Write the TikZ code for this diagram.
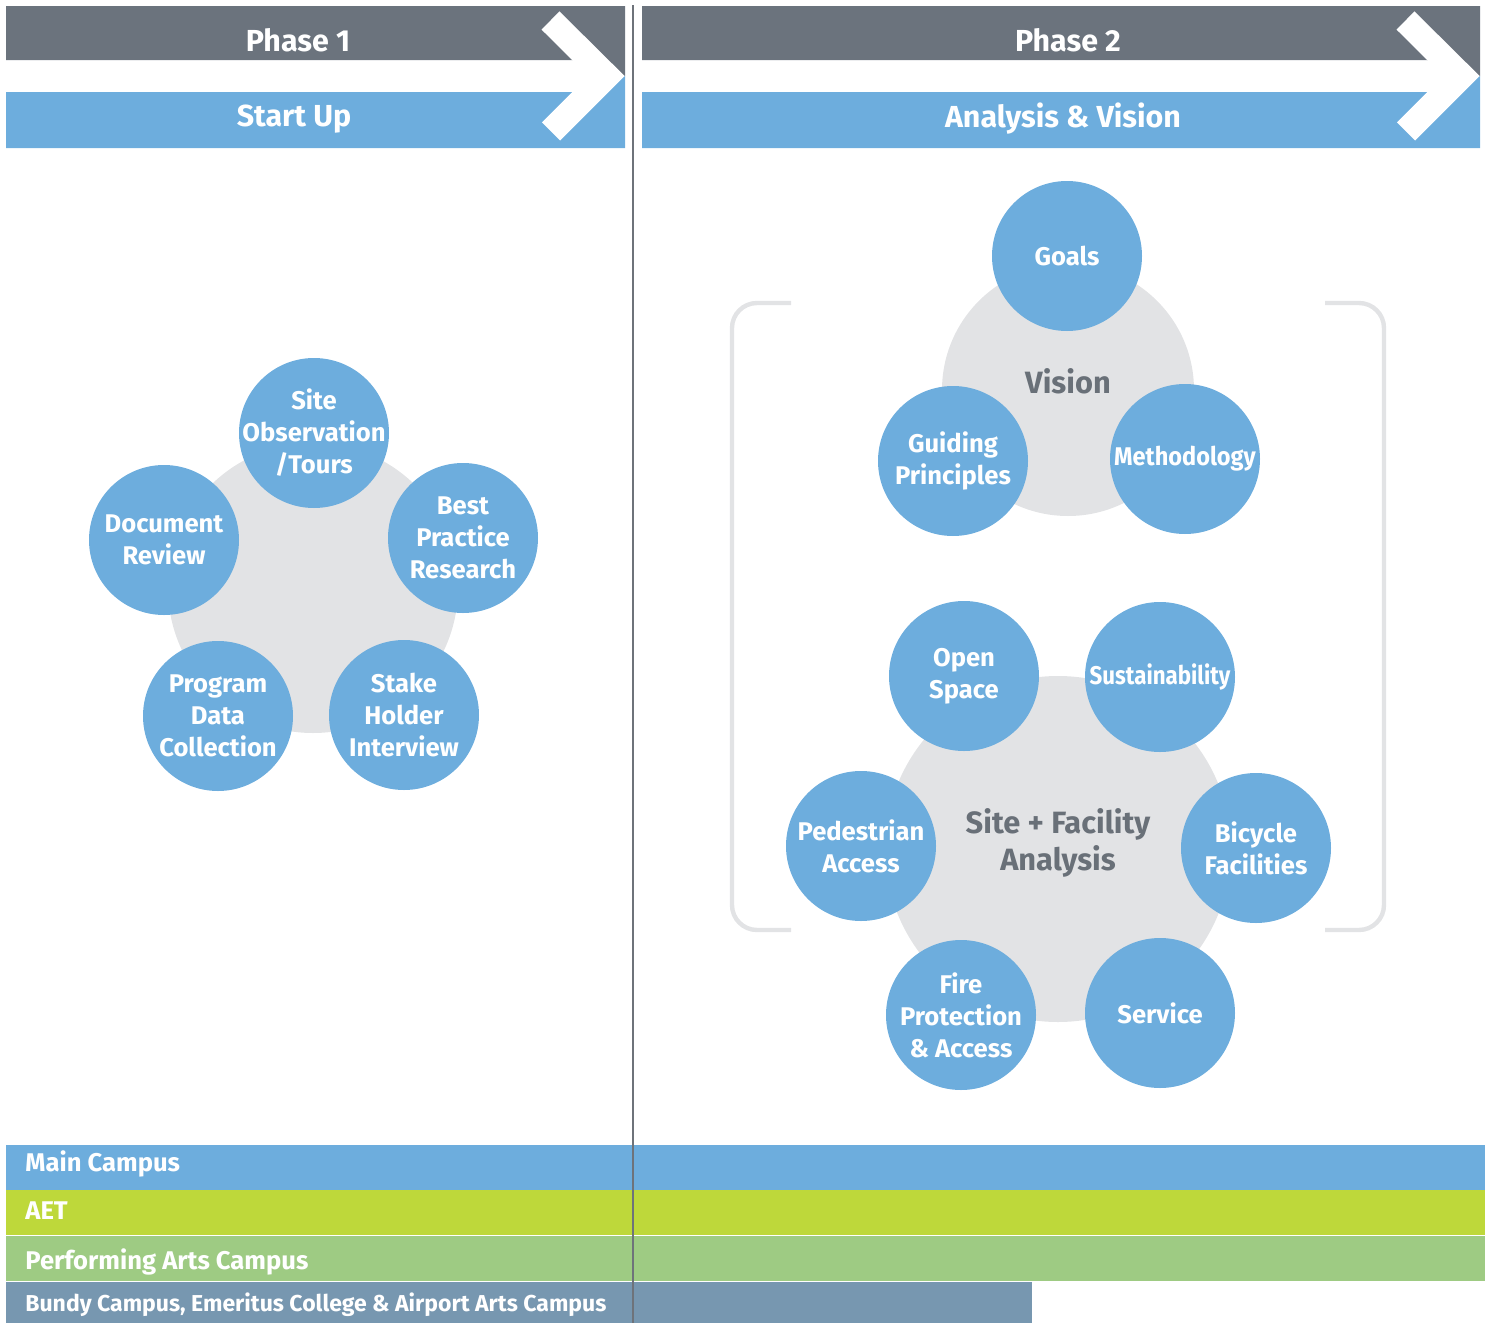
\documentclass[tikz,border=0pt]{standalone}
\usepackage{fontspec}
\setmainfont{Fira Sans}
\definecolor{phasegrey}{RGB}{107,115,125}
\definecolor{stepblue}{RGB}{109,173,221}
\definecolor{hubgrey}{RGB}{226,227,229}
\definecolor{labelgrey}{RGB}{105,112,120}
\definecolor{aetgreen}{RGB}{190,216,58}
\definecolor{pacgreen}{RGB}{158,203,131}
\definecolor{bundyslate}{RGB}{119,151,176}
\definecolor{dividergrey}{RGB}{110,115,122}
\begin{document}
\begin{tikzpicture}[x=0.5pt,y=-0.5pt,
    bubble/.style={circle,fill=stepblue,minimum size=75pt,inner sep=-10pt,align=center,text=white,
        font=\bfseries\fontsize{12.8}{16}\selectfont},
    hubdisc/.style={fill=hubgrey},
    hubtext/.style={text=labelgrey,align=center,font=\bfseries\fontsize{15.4}{18.5}\selectfont},
    headtext/.style={text=white,font=\bfseries\fontsize{15.2}{17}\selectfont},
    bartext/.style={anchor=base west,text=white,inner sep=0pt,font=\bfseries\fontsize{12.8}{14}\selectfont},
    chevron/.style={draw=white,line width=12.75pt,line cap=butt,line join=miter},
    bracket/.style={draw=hubgrey,line width=2.2pt,rounded corners=12.5pt},
    divider/.style={draw=dividergrey,line width=1.2pt}]
    \useasboundingbox (0,0) rectangle (1485,1323);
    % header bars
    \fill[phasegrey] (6,6) -- (625,6) -- (625,76) -- (590,60) -- (6,60) -- cycle;
    \fill[stepblue] (6,92) -- (590,92) -- (625,76) -- (625,148) -- (6,148) -- cycle;
    \draw[chevron] (550.5,20.5) -- (606.5,76) -- (551,131.5);
    \fill[phasegrey] (642,6) -- (1480,6) -- (1480,76) -- (1445,60) -- (642,60) -- cycle;
    \fill[stepblue] (642,92) -- (1445,92) -- (1480,76) -- (1480,148) -- (642,148) -- cycle;
    \draw[chevron] (1405.5,20.5) -- (1461.5,76) -- (1406,131.5);
    \node[headtext] (phase1) at (298,40) {Phase 1};
    \node[headtext] (startup) at (294,119) {Start Up};
    \node[headtext] (phase2) at (1068,40) {Phase 2};
    \node[headtext] (analysis) at (1063,119) {Analysis \& Vision};
    % campus bars
    \fill[stepblue] (6,1145) rectangle (1485,1190);
    \fill[aetgreen] (6,1190) rectangle (1485,1235);
    \fill[pacgreen] (6,1236) rectangle (1485,1281);
    \fill[bundyslate] (6,1282) rectangle (1032,1323);
    \node[bartext] (main) at (25,1171) {Main Campus};
    \node[bartext] (aet) at (25,1219) {AET};
    \node[bartext] (pac) at (25,1269) {Performing Arts Campus};
    \node[bartext,font=\bfseries\fontsize{11.5}{13}\selectfont] (bundy) at (25,1311) {Bundy Campus, Emeritus College \& Airport Arts Campus};
    \draw[divider] (633,5) -- (633,1323);
    % phase 1
    \fill[hubdisc] (313,588) circle (145);
    \node[bubble] (siteobs) at (314,433) {Site\\Observation\\/Tours};
    \node[bubble] (docreview) at (164,540) {Document\\Review};
    \node[bubble] (bestpractice) at (463,538) {Best\\Practice\\Research};
    \node[bubble] (programdata) at (218,716) {Program\\Data\\Collection};
    \node[bubble] (stakeholder) at (404,715) {Stake\\Holder\\Interview};
    % phase 2
    \draw[bracket] (791,303) -- (732,303) -- (732,930) -- (791,930);
    \draw[bracket] (1325,303) -- (1384,303) -- (1384,930) -- (1325,930);
    \fill[hubdisc] (1068,390) circle (126);
    \node[hubtext] (vision) at (1068,381) {Vision};
    \node[bubble] (goals) at (1067,256) {Goals};
    \node[bubble] (guiding) at (953,461) {Guiding\\Principles};
    \node[bubble] (methodology) at (1185,459) {\scalebox{0.92}[1]{Methodology}};
    \fill[hubdisc] (1058,849) circle (173);
    \node[hubtext] (siteanalysis) at (1058,843) {Site + Facility\\Analysis};
    \node[bubble] (openspace) at (964,676) {Open\\Space};
    \node[bubble] (sustain) at (1160,677) {\scalebox{0.87}[1]{Sustainability}};
    \node[bubble] (pedestrian) at (861,846) {Pedestrian\\Access};
    \node[bubble] (bicycle) at (1256,848) {Bicycle\\Facilities};
    \node[bubble] (fireprot) at (961,1015) {Fire\\Protection\\\& Access};
    \node[bubble] (service) at (1160,1013) {Service};
\end{tikzpicture}
\end{document}
